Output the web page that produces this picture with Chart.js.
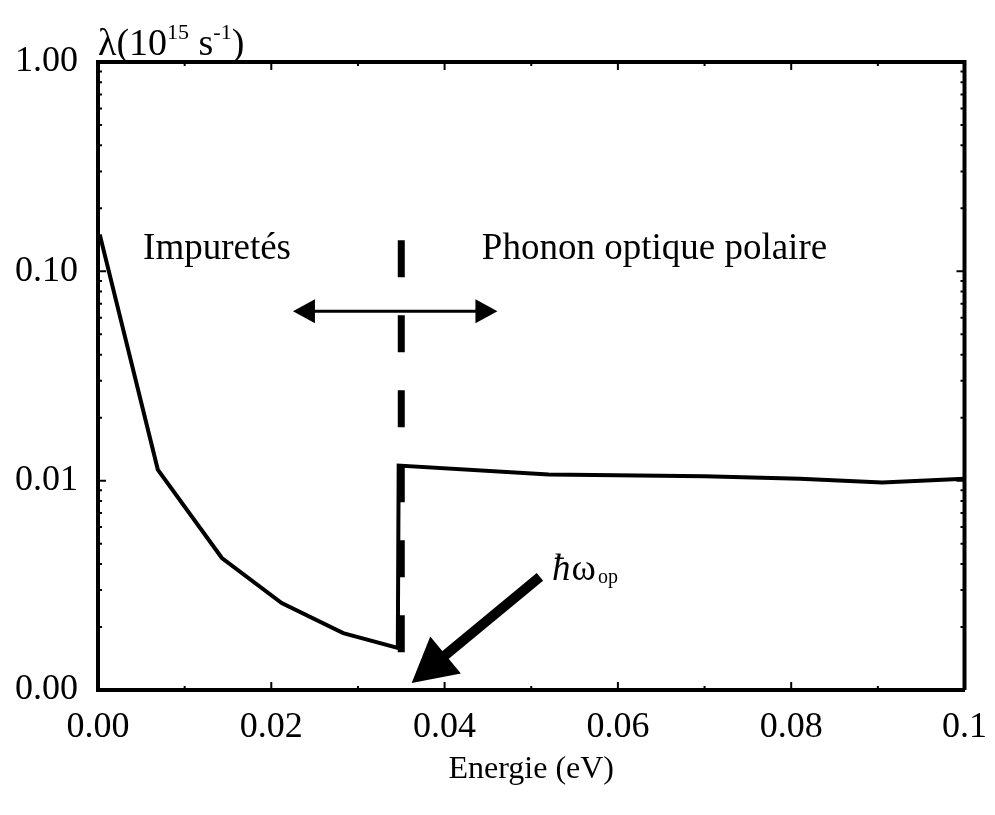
<!DOCTYPE html>
<html>
<head>
<meta charset="utf-8">
<title>Taux de diffusion en fonction de l'énergie</title>
<script src="https://cdn.jsdelivr.net/npm/chart.js@4.4.0/dist/chart.umd.min.js"></script>
<style>
    html, body { margin: 0; padding: 0; background: #fff; }
    #wrap { position: relative; width: 995px; height: 815px; }
</style>
</head>
<body>
<div id="wrap"><canvas id="tauxChart"></canvas></div>
<script>
// Courbe du taux de diffusion lambda (10^15 s^-1) en fonction de l'énergie (eV)
const energie = [0.0002, 0.0069, 0.0143, 0.0212, 0.0283, 0.0346, 0.0347, 0.052, 0.070, 0.081, 0.0905, 0.100];
const lambda  = [0.150, 0.0113, 0.00427, 0.0026, 0.00187, 0.00159, 0.0118, 0.0107, 0.0105, 0.0102, 0.0098, 0.0102];

// Seuil du phonon optique (trait vertical en tirets)
const seuilEnergie = [0.035, 0.035];
const seuilLambda  = [0.1406, 0.00147];

// Graduations
const xTicks = [0, 0.02, 0.04, 0.06, 0.08, 0.1];
const xTickLabels = ['0.00', '0.02', '0.04', '0.06', '0.08', '0.1'];
const yTicks = [0.001, 0.01, 0.1, 1];
const yTickLabels = ['0.00', '0.01', '0.10', '1.00'];

const SERIF = "'Liberation Serif', 'Times New Roman', serif";

// Annotations : flèches et textes, en coordonnées des données
const flecheDouble = { x1: 0.0225, x2: 0.0461, y: 0.0644 };
const flecheSeuil = { x1: 0.0510, y1: 0.00347, x2: 0.0362, y2: 0.00108 };

function pointe(ctx, x1, y1, x2, y2, longueur, demiLargeur) {
    const a = Math.atan2(y2 - y1, x2 - x1);
    const bx = x2 - longueur * Math.cos(a), by = y2 - longueur * Math.sin(a);
    ctx.beginPath();
    ctx.moveTo(x2, y2);
    ctx.lineTo(bx + demiLargeur * Math.sin(a), by - demiLargeur * Math.cos(a));
    ctx.lineTo(bx - demiLargeur * Math.sin(a), by + demiLargeur * Math.cos(a));
    ctx.closePath();
    ctx.fill();
}

const decorPlugin = {
    id: 'decor',
    afterDatasetsDraw(chart) {
        const ctx = chart.ctx;
        const xs = chart.scales.x, ys = chart.scales.y;
        const a = chart.chartArea;
        ctx.save();
        ctx.fillStyle = '#000';
        ctx.strokeStyle = '#000';

        // cadre haut et droit
        ctx.lineWidth = 4;
        ctx.beginPath();
        ctx.moveTo(a.left, a.top);
        ctx.lineTo(a.right, a.top);
        ctx.lineTo(a.right, a.bottom);
        ctx.stroke();

        // petites graduations vers l'intérieur
        ctx.lineWidth = 2;
        ctx.beginPath();
        for (let v = 0; v <= 0.1 + 1e-9; v += 0.01) {
            const px = xs.getPixelForValue(v);
            const l = Math.abs(v / 0.02 - Math.round(v / 0.02)) < 1e-6 ? 8 : 4;
            ctx.moveTo(px, a.bottom); ctx.lineTo(px, a.bottom - l);
            ctx.moveTo(px, a.top); ctx.lineTo(px, a.top + l);
        }
        for (let d = 0.001; d < 1; d *= 10) {
            for (let m = 1; m < 10; m++) {
                const py = ys.getPixelForValue(d * m);
                const l = m === 1 ? 8 : 4;
                ctx.moveTo(a.left, py); ctx.lineTo(a.left + l, py);
                ctx.moveTo(a.right, py); ctx.lineTo(a.right - l, py);
            }
        }
        ctx.stroke();

        // double flèche horizontale
        const fy = ys.getPixelForValue(flecheDouble.y);
        const fx1 = xs.getPixelForValue(flecheDouble.x1);
        const fx2 = xs.getPixelForValue(flecheDouble.x2);
        ctx.lineWidth = 3;
        ctx.beginPath();
        ctx.moveTo(fx1 + 15, fy); ctx.lineTo(fx2 - 15, fy);
        ctx.stroke();
        pointe(ctx, fx2, fy, fx1, fy, 22, 12);
        pointe(ctx, fx1, fy, fx2, fy, 22, 12);

        // flèche vers le seuil
        const sx1 = xs.getPixelForValue(flecheSeuil.x1), sy1 = ys.getPixelForValue(flecheSeuil.y1);
        const sx2 = xs.getPixelForValue(flecheSeuil.x2), sy2 = ys.getPixelForValue(flecheSeuil.y2);
        const ang = Math.atan2(sy2 - sy1, sx2 - sx1);
        ctx.lineWidth = 10;
        ctx.beginPath();
        ctx.moveTo(sx1, sy1);
        ctx.lineTo(sx2 - 35 * Math.cos(ang), sy2 - 35 * Math.sin(ang));
        ctx.stroke();
        pointe(ctx, sx1, sy1, sx2, sy2, 44, 24);

        // textes
        ctx.textBaseline = 'middle';
        ctx.textAlign = 'left';
        ctx.font = '37px ' + SERIF;
        ctx.fillText('Impuretés', xs.getPixelForValue(0.0052), ys.getPixelForValue(0.1274));
        ctx.fillText('Phonon optique polaire', xs.getPixelForValue(0.0443), ys.getPixelForValue(0.1274));

        // ħω_op
        ctx.textBaseline = 'alphabetic';
        let hx = xs.getPixelForValue(0.0524);
        const hy = ys.getPixelForValue(0.00336);
        ctx.font = 'italic 37px ' + SERIF;
        ctx.fillText('ħ', hx, hy);
        hx += ctx.measureText('ħ').width + 1;
        ctx.font = '37px ' + SERIF;
        ctx.fillText('ω', hx, hy);
        hx += ctx.measureText('ω').width + 2;
        ctx.font = '20px ' + SERIF;
        ctx.fillText('op', hx, hy + 3);

        // titre de l'axe vertical : λ(10^15 s^-1)
        let tx = a.left;
        const ty = 55;
        const morceaux = [
            ['λ(10', 38, 0], ['15', 22, -16], [' s', 38, 0], ['-1', 22, -16], [')', 38, 0]
        ];
        morceaux.forEach(([t, taille, dy]) => {
            ctx.font = taille + 'px ' + SERIF;
            ctx.fillText(t, tx, ty + dy);
            tx += ctx.measureText(t).width;
        });
        ctx.restore();
    }
};

new Chart(document.getElementById('tauxChart'), {
    type: 'line',
    data: {
        datasets: [{
            data: energie.map((e, i) => ({ x: e, y: lambda[i] })),
            borderColor: '#000',
            borderWidth: 4,
            pointRadius: 0,
            tension: 0,
            fill: false
        }, {
            data: seuilEnergie.map((e, i) => ({ x: e, y: seuilLambda[i] })),
            borderColor: '#000',
            borderWidth: 7,
            borderDash: [37, 38],
            borderCapStyle: 'butt',
            pointRadius: 0,
            fill: false
        }]
    },
    options: {
        responsive: true,
        maintainAspectRatio: false,
        animation: false,
        layout: { padding: { top: 62, right: 30, left: 0, bottom: 0 } },
        plugins: {
            legend: { display: false },
            tooltip: { enabled: false }
        },
        scales: {
            x: {
                type: 'linear',
                min: 0,
                max: 0.1,
                afterBuildTicks: scale => { scale.ticks = xTicks.map(v => ({ value: v })); },
                afterFit: scale => { scale.height = 125; },
                grid: { display: false },
                border: { display: true, color: '#000', width: 4 },
                ticks: {
                    autoSkip: false,
                    maxRotation: 0,
                    padding: 8,
                    color: '#000',
                    font: { family: SERIF, size: 36 },
                    callback: (v, i) => xTickLabels[i]
                },
                title: {
                    display: true,
                    text: 'Energie (eV)',
                    color: '#000',
                    font: { family: SERIF, size: 32 },
                    padding: { top: 0, bottom: 26 }
                }
            },
            y: {
                type: 'logarithmic',
                min: 0.001,
                max: 1,
                afterBuildTicks: scale => { scale.ticks = yTicks.map(v => ({ value: v })); },
                afterFit: scale => { scale.width = 98; },
                grid: { display: false },
                border: { display: true, color: '#000', width: 4 },
                ticks: {
                    padding: 12,
                    color: '#000',
                    font: { family: SERIF, size: 36 },
                    callback: (v, i) => yTickLabels[i]
                }
            }
        }
    },
    plugins: [decorPlugin]
});
</script>
</body>
</html>
